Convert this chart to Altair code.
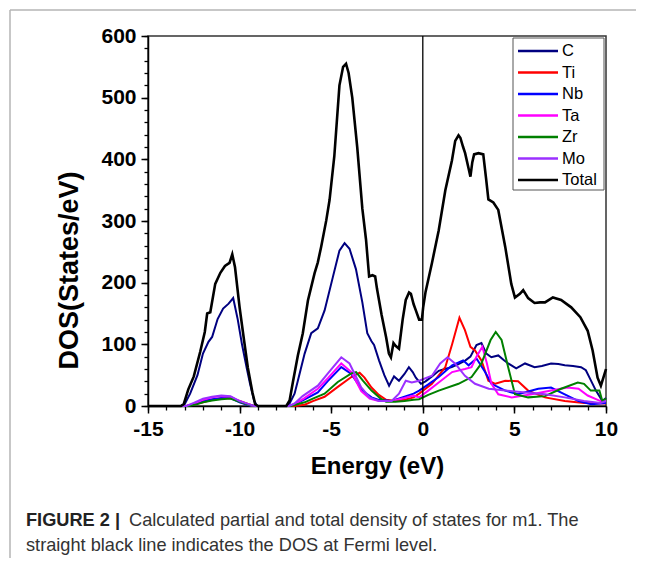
import altair as alt
import pandas as pd

FONT = "Liberation Sans, Arial, sans-serif"

SERIES = ["C", "Ti", "Nb", "Ta", "Zr", "Mo", "Total"]
COLORS = ["#000080", "#FF0000", "#0000FF", "#FF00FF", "#008000", "#9B30FF", "#000000"]

X_MAJOR = [-15, -10, -5, 0, 5, 10]
Y_MAJOR = [0, 100, 200, 300, 400, 500, 600]
X_MINOR = list(range(-15, 11))
Y_MINOR = list(range(0, 601, 20))
FERMI = [0.0]

CAPTION_BOLD = "FIGURE 2 |"
CAPTION_1 = "Calculated partial and total density of states for m1. The"
CAPTION_2 = "straight black line indicates the DOS at Fermi level."

C_E = [-15, -13.2, -13.0, -12.7, -12.3, -12.0, -11.7, -11.5, -11.2, -10.9, -10.6, -10.35, -10.1, -9.87,
       -9.6, -9.43, -9.2, -9.05, -7.4, -7.27, -7.0, -6.82, -6.45, -6.09, -5.73, -5.36, -4.91, -4.55,
       -4.27, -4.0, -3.65, -3.3, -3.03, -2.8, -2.66, -2.39, -2.1, -1.84, -1.57, -1.3, -1.0, -0.76,
       -0.55, -0.38, -0.1, 0.15, 0.5, 0.87, 1.2, 1.58, 1.95, 2.33, 2.6, 2.93, 3.2, 3.47, 3.74, 4.12,
       4.4, 4.66, 5.1, 5.58, 6.1, 6.5, 7.0, 7.4, 7.75, 8.2, 8.64, 8.9, 9.1, 9.45, 9.8, 10.0]
C_DOS = [0, 0, 3, 20, 50, 85, 104, 112, 141, 158, 166, 175, 140, 100,
         60, 36, 8, 0, 0, 4, 20, 41, 85, 118, 126, 155, 209, 252,
         264, 255, 222, 168, 118, 105, 99, 74, 50, 33, 48, 41, 52, 63,
         55, 46, 36, 40, 48, 57, 60, 63, 68, 74, 80, 99, 102, 85, 79, 82,
         75, 69, 61, 69, 63, 65, 69, 68, 66, 65, 63, 58, 46, 25, 8, 13]

TI_E = [-15, -12.9, -12.5, -12.0, -11.5, -11.0, -10.5, -10.0, -9.5, -9.2, -9.0, -7.0, -6.45, -6.0,
        -5.36, -4.64, -3.9, -3.45, -3.18, -2.8, -2.4, -2.0, -1.5, -1.0, -0.5, -0.2, 0.5, 1.23, 1.6,
        2.0, 2.3, 2.6, 2.85, 3.2, 3.58, 3.96, 4.5, 5.2, 5.75, 6.67, 7.75, 8.8, 10.0]
TI_DOS = [0, 0, 3, 6, 10, 12, 13, 8, 3, 0, 0, 0, 2, 8,
          15, 31, 47, 54, 46, 30, 18, 10, 8, 10, 14, 20, 36, 63, 100,
          143, 123, 96, 90, 74, 41, 36, 41, 40, 25, 14, 8, 5, 4]

NB_E = [-15, -12.9, -12.5, -12.0, -11.5, -11.0, -10.5, -10.0, -9.6, -9.3, -9.1, -7.3, -7.0, -6.5,
        -5.73, -5.2, -4.45, -3.9, -3.3, -2.8, -2.4, -1.7, -1.0, -0.5, -0.2, 0.3, 0.87, 1.6, 2.2,
        2.5, 2.93, 3.4, 3.75, 4.5, 5.2, 6.3, 7.0, 7.75, 8.5, 9.2, 10.0]
NB_DOS = [0, 0, 3, 8, 11, 13, 13, 6, 2, 0, 0, 0, 3, 10,
          22, 40, 63, 52, 25, 14, 10, 8, 15, 20, 25, 35, 47, 66, 74,
          66, 77, 55, 36, 25, 19, 28, 30, 19, 8, 3, 5]

TA_E = [-15, -12.9, -12.5, -12.0, -11.5, -11.0, -10.5, -10.0, -9.6, -9.3, -9.1, -7.3, -7.0, -6.5,
        -5.73, -5.18, -4.45, -3.9, -3.36, -2.9, -2.4, -1.7, -1.0, -0.5, -0.2, 0.3, 0.87, 1.6, 2.3,
        2.66, 2.93, 3.25, 3.5, 3.75, 4.12, 4.85, 5.95, 7.0, 7.9, 8.5, 9.0, 9.7, 10.0]
TA_DOS = [0, 0, 4, 10, 14, 16, 15, 8, 3, 0, 0, 0, 3, 12,
          28, 45, 69, 55, 24, 12, 8, 8, 13, 17, 14, 25, 38, 55, 60,
          63, 80, 96, 69, 36, 19, 14, 19, 25, 30, 28, 17, 8, 8]

ZR_E = [-15, -12.8, -12.3, -12.0, -11.5, -11.0, -10.5, -10.0, -9.5, -9.2, -9.0, -7.2, -6.45, -6.0,
        -5.36, -4.64, -3.9, -3.64, -3.27, -2.8, -2.3, -2.0, -1.5, -1.0, -0.5, -0.2, 0.3, 0.87, 1.95,
        2.66, 3.2, 3.7, 3.98, 4.3, 4.66, 5.03, 5.75, 6.67, 7.55, 8.46, 8.8, 9.17, 9.64, 9.8, 10.0]
ZR_DOS = [0, 0, 3, 6, 9, 11, 12, 7, 2, 0, 0, 0, 6, 12,
          20, 39, 53, 55, 41, 25, 12, 7, 7, 8, 10, 11, 18, 25, 36,
          47, 69, 107, 120, 107, 63, 19, 14, 16, 28, 38, 36, 25, 25, 8, 12]

MO_E = [-15, -12.9, -12.5, -12.0, -11.5, -11.0, -10.5, -10.0, -9.5, -9.2, -9.0, -7.3, -7.0, -6.56,
        -5.73, -5.18, -4.45, -4.0, -3.36, -2.9, -2.39, -1.7, -1.3, -0.93, -0.6, -0.2, 0.5, 0.95,
        1.35, 1.76, 2.3, 2.85, 3.6, 4.5, 5.6, 6.67, 7.75, 8.8, 9.7, 10.0]
MO_DOS = [0, 0, 5, 12, 15, 17, 16, 8, 3, 0, 0, 0, 4, 16,
          33, 53, 79, 69, 30, 14, 8, 8, 20, 41, 38, 41, 49, 69,
          79, 69, 49, 36, 28, 25, 22, 19, 14, 8, 5, 8]

TOTAL_E = [-15, -13.2, -13.05, -12.8, -12.5, -12.15, -11.9, -11.77, -11.6, -11.33, -11.05, -10.8,
           -10.55, -10.4, -10.25, -10.0, -9.75, -9.55, -9.3, -9.15, -9.0,
           -7.45, -7.27, -7.09, -6.82, -6.55, -6.27, -5.91, -5.73, -5.55, -5.27, -5.09, -4.83,
           -4.55, -4.35, -4.19, -4.05, -3.85, -3.58, -3.3, -3.1,
           -2.93, -2.75, -2.6, -2.5, -2.25, -2.0, -1.85, -1.74, -1.6, -1.5, -1.3, -1.1, -0.93,
           -0.75, -0.65, -0.5, -0.38, -0.2, -0.05,
           0.02, 0.15, 0.5, 0.87, 1.23, 1.59, 1.77, 1.95, 2.05, 2.2, 2.31, 2.5, 2.6, 2.7, 2.8,
           3.04, 3.3, 3.45, 3.58, 3.85,
           4.12, 4.5, 4.83, 5.03, 5.3, 5.48, 5.75, 6.1, 6.4, 6.67, 7.1, 7.55, 8.1, 8.6, 9.0,
           9.27, 9.54, 9.72, 9.9, 10.0]
TOTAL_DOS = [0, 0, 3, 27, 48, 88, 120, 150, 152, 198, 216, 227,
             232, 246, 225, 160, 105, 62, 22, 3, 0,
             0, 9, 39, 82, 118, 171, 215, 233, 258, 301, 334, 405,
             520, 550, 555, 540, 500, 420, 320, 270,
             210, 212, 210, 190, 148, 111, 85, 79, 102, 98, 93, 140, 172,
             184, 182, 165, 155, 140, 140,
             160, 185, 232, 285, 350, 398, 430, 439, 435, 420, 410, 385, 372, 395, 408,
             410, 408, 370, 335, 330,
             318, 258, 198, 176, 182, 188, 175, 167, 168, 168, 176, 172, 160, 144, 122,
             90, 46, 33, 50, 60]

PARTIALS = [("C", C_E, C_DOS), ("Ti", TI_E, TI_DOS), ("Nb", NB_E, NB_DOS),
            ("Ta", TA_E, TA_DOS), ("Zr", ZR_E, ZR_DOS), ("Mo", MO_E, MO_DOS)]

rows = []
for name, es, vs in PARTIALS:
    for e, v in zip(es, vs):
        rows.append({"series": name, "E": e, "DOS": v})
df_partial = pd.DataFrame(rows)
df_total = pd.DataFrame({"series": "Total", "E": TOTAL_E, "DOS": TOTAL_DOS})
df_fermi = pd.DataFrame({"E": FERMI})
df_legend = pd.DataFrame({"series": SERIES})
df_minor = pd.DataFrame({"E": [X_MINOR[0], X_MINOR[-1]], "DOS": [Y_MINOR[0], Y_MINOR[-1]]})
one = pd.DataFrame({"a": [0]})

W, H = 458, 370
xscale = alt.Scale(domain=[-15, 10], nice=False, zero=False)
yscale = alt.Scale(domain=[0, 600], nice=False)
cscale = alt.Scale(domain=SERIES, range=COLORS)

hyphen = "datum.value < 0 ? '-' + abs(datum.value) : '' + datum.value"

x_axis = alt.Axis(values=X_MAJOR, grid=False, labelFont=FONT, labelFontSize=21,
                  labelFontWeight="bold", labelColor="black", labelPadding=5,
                  labelExpr=hyphen,
                  tickSize=7, tickWidth=1.5, tickColor="black", domainColor="black",
                  domainWidth=1.5, titleFont=FONT, titleFontSize=24, titleFontWeight="bold",
                  titleColor="black", titlePadding=15, labelFlush=False)
y_axis = alt.Axis(values=Y_MAJOR, grid=False, labelFont=FONT, labelFontSize=21,
                  labelFontWeight="bold", labelColor="black", labelPadding=5,
                  tickSize=7, tickWidth=1.5, tickColor="black", domainColor="black",
                  domainWidth=1.5, titleFont=FONT, titleFontSize=27, titleFontWeight="bold",
                  titleColor="black", titleX=-65, titleY=234, titleAngle=270, labelFlush=False)

partials = alt.Chart(df_partial).mark_line(strokeWidth=2).encode(
    x=alt.X("E:Q", scale=xscale, axis=x_axis, title="Energy (eV)"),
    y=alt.Y("DOS:Q", scale=yscale, axis=y_axis, title="DOS(States/eV)"),
    color=alt.Color("series:N", scale=cscale, legend=None),
)

total = alt.Chart(df_total).mark_line(strokeWidth=2.6, color="black").encode(
    x=alt.X("E:Q", scale=xscale, axis=None),
    y=alt.Y("DOS:Q", scale=yscale, axis=None),
)

fermi = alt.Chart(df_fermi).mark_rule(color="black", strokeWidth=1.3).encode(
    x=alt.X("E:Q", scale=xscale, axis=None),
)

minor = alt.Chart(df_minor).mark_point(opacity=0).encode(
    x=alt.X("E:Q", scale=xscale, title="",
            axis=alt.Axis(values=X_MINOR, labels=False, tickSize=4, tickWidth=1.3,
                          tickColor="black", domain=False, grid=False, orient="bottom")),
    y=alt.Y("DOS:Q", scale=yscale, title="",
            axis=alt.Axis(values=Y_MINOR, labels=False, tickSize=4, tickWidth=1.3,
                          tickColor="black", domain=False, grid=False, orient="left")),
)

legend_box = alt.Chart(one).mark_rect(fill="white", stroke="#555", strokeWidth=1).encode(
    x=alt.value(365), x2=alt.value(456), y=alt.value(2), y2=alt.value(154)
)
leg_y = alt.Y("series:N", sort=SERIES, axis=None,
              scale=alt.Scale(type="point", domain=SERIES, range=[15, 144], padding=0))
legend_lines = alt.Chart(df_legend).mark_rule(strokeWidth=2.5).encode(
    x=alt.value(370), x2=alt.value(410), y=leg_y,
    color=alt.Color("series:N", scale=cscale, legend=None),
)
legend_text = alt.Chart(df_legend).mark_text(
    align="left", baseline="middle", font=FONT, fontSize=16.5, color="black"
).encode(x=alt.value(414), y=leg_y, text="series:N")

frame_top = alt.Chart(one).mark_rule(color="#b5b5b5", strokeWidth=1.5).encode(
    x=alt.value(-138), x2=alt.value(500), y=alt.value(-26)
)
frame_left = alt.Chart(one).mark_rule(color="#b5b5b5", strokeWidth=1.5).encode(
    x=alt.value(-138), y=alt.value(-26), y2=alt.value(530)
)
cap_bold = alt.Chart(pd.DataFrame({"t": [CAPTION_BOLD]})).mark_text(
    align="left", baseline="middle", font=FONT, fontSize=18.2, fontWeight="bold", color="#222"
).encode(x=alt.value(-122), y=alt.value(485), text="t:N")
cap_1 = alt.Chart(pd.DataFrame({"t": [CAPTION_1]})).mark_text(
    align="left", baseline="middle", font=FONT, fontSize=18.2, color="#333"
).encode(x=alt.value(-19), y=alt.value(485), text="t:N")
cap_2 = alt.Chart(pd.DataFrame({"t": [CAPTION_2]})).mark_text(
    align="left", baseline="middle", font=FONT, fontSize=18.2, color="#333"
).encode(x=alt.value(-122), y=alt.value(510), text="t:N")

chart = alt.layer(
    partials, total, fermi, minor, legend_box, legend_lines, legend_text,
    frame_top, frame_left, cap_bold, cap_1, cap_2
).resolve_scale(
    x="independent", y="independent"
).resolve_axis(
    x="independent", y="independent"
).properties(
    width=W, height=H,
    autosize=alt.AutoSizeParams(type="none"),
    padding={"left": 140, "top": 28, "right": 30, "bottom": 152},
    background="white",
).configure_view(stroke="#333", strokeWidth=1.5)

chart.save("out.html", embed_options={"renderer": "svg", "actions": False})
